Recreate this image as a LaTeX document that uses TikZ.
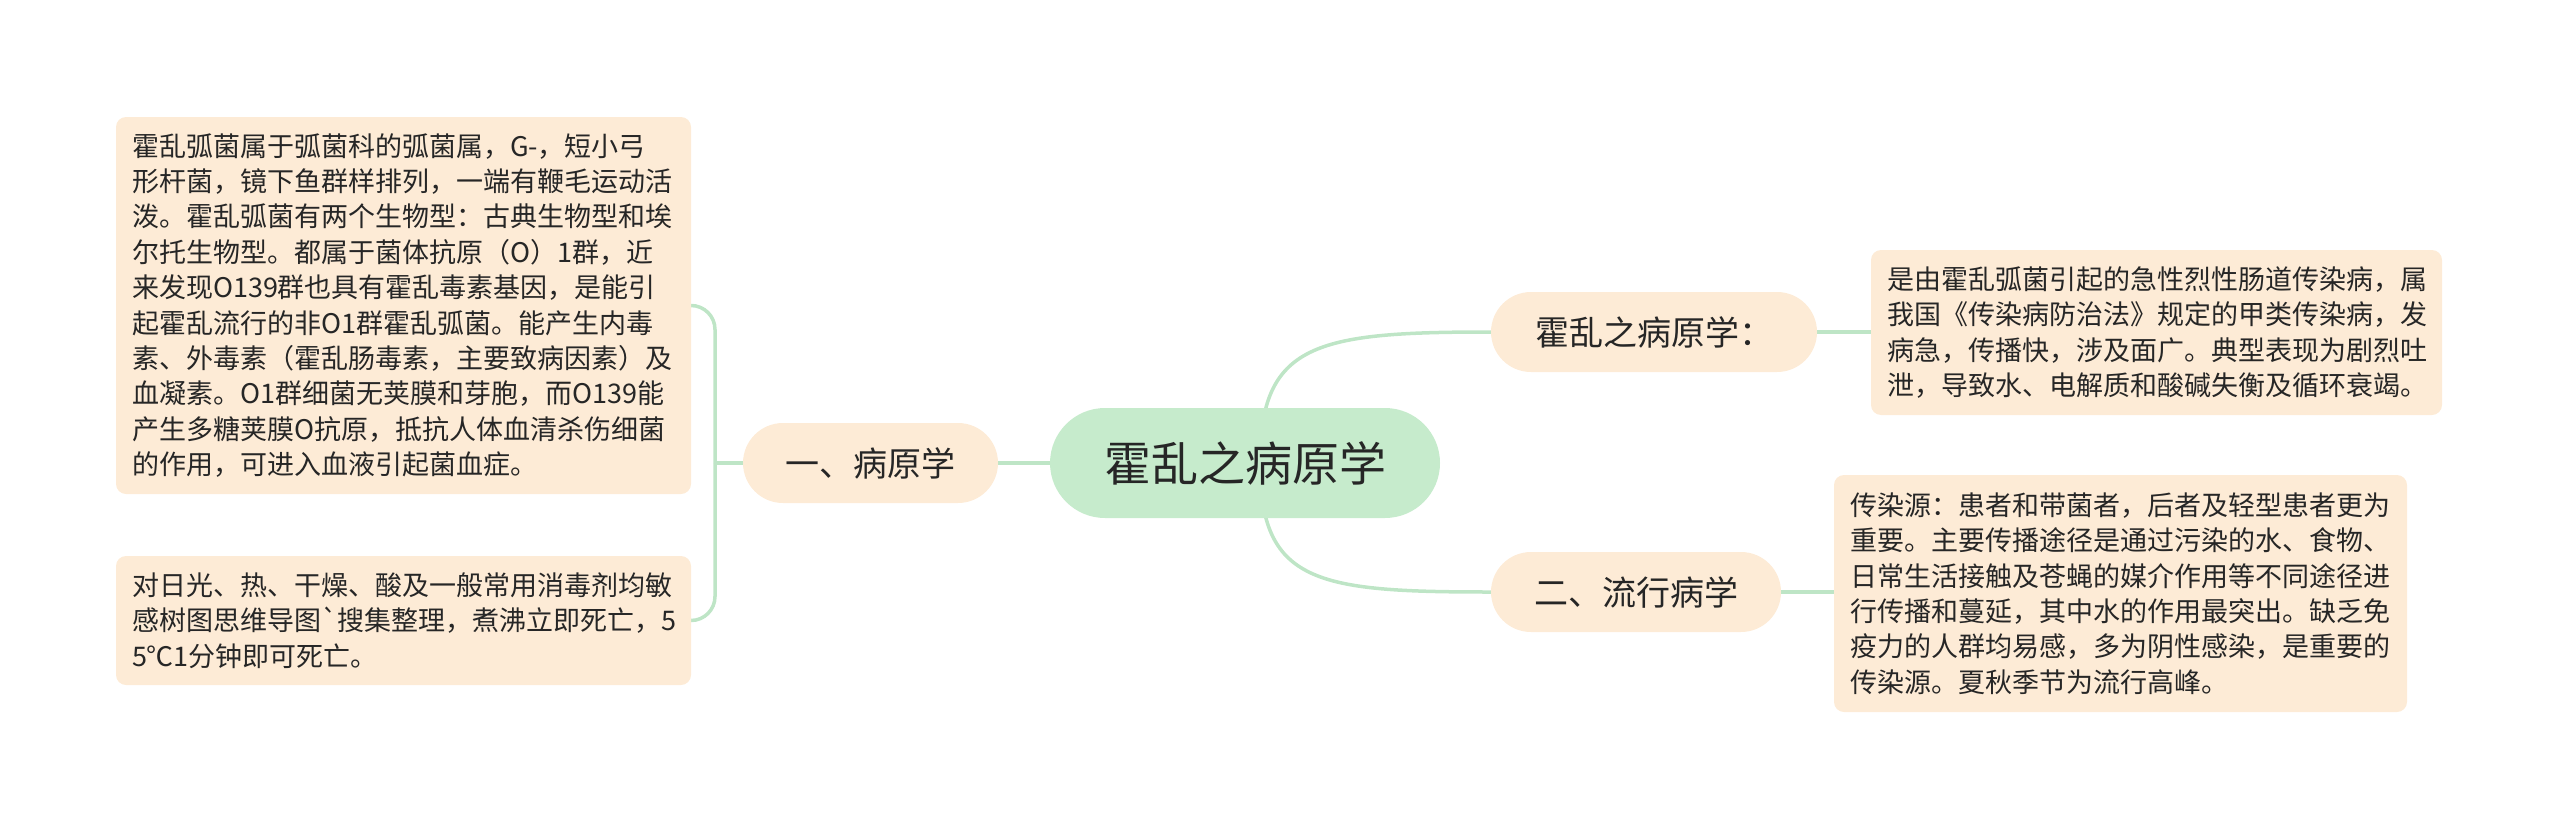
\documentclass[tikz,border=0pt]{standalone}
\usepackage{fontspec}
\newfontfamily\zhfont{Noto Sans CJK SC}
\usepackage{tikz}
\usetikzlibrary{backgrounds}

\definecolor{peach}{RGB}{253,235,214}
\definecolor{mint}{RGB}{198,235,204}
\definecolor{linkgreen}{RGB}{190,229,198}
\definecolor{ink}{RGB}{38,38,38}

\begin{document}
\begin{tikzpicture}[x=1pt, y=-1pt,
  root/.style={fill=mint, text=ink, rounded corners=55pt, minimum width=390pt,
               minimum height=110pt, inner sep=0pt,
               font=\zhfont\fontsize{47}{56}\selectfont},
  branch/.style={fill=peach, text=ink, rounded corners=40pt, minimum height=80pt,
                 inner sep=0pt, font=\zhfont\fontsize{34}{40}\selectfont},
  leaf/.style={fill=peach, text=ink, rounded corners=10pt, inner xsep=16pt,
               inner ysep=0pt, align=left,
               font=\zhfont\fontsize{27}{35.4}\selectfont},
  link/.style={draw=linkgreen, line width=3.5pt}]

\useasboundingbox (0,0) rectangle (2560,830);

\draw (1245,463) node[root] (root) {霍乱之病原学};
\draw (870.5,463) node[branch, minimum width=255pt] (bingyuan) {一、病原学};
\draw (1654,332) node[branch, minimum width=326pt] (dingyi) {霍乱之病原学：};
\draw (1636,592) node[branch, minimum width=290pt] (liuxing) {二、流行病学};

\draw (403.5,305.5) node[leaf, text width=543pt, minimum height=377pt] (xijun) {
霍乱弧菌属于弧菌科的弧菌属，G-，短小弓\\
形杆菌，镜下鱼群样排列，一端有鞭毛运动活\\
泼。霍乱弧菌有两个生物型：古典生物型和埃\\
尔托生物型。都属于菌体抗原（O）1群，近\\
来发现O139群也具有霍乱毒素基因，是能引\\
起霍乱流行的非O1群霍乱弧菌。能产生内毒\\
素、外毒素（霍乱肠毒素，主要致病因素）及\\
血凝素。O1群细菌无荚膜和芽胞，而O139能\\
产生多糖荚膜O抗原，抵抗人体血清杀伤细菌\\
的作用，可进入血液引起菌血症。};
\draw (403.5,620.5) node[leaf, text width=543pt, minimum height=129pt] (dikang) {
对日光、热、干燥、酸及一般常用消毒剂均敏\\
感树图思维导图`搜集整理，煮沸立即死亡，5\\
5℃1分钟即可死亡。};
\draw (2156.5,332.5) node[leaf, text width=539pt, minimum height=165pt] (gaishu) {
是由霍乱弧菌引起的急性烈性肠道传染病，属\\
我国《传染病防治法》规定的甲类传染病，发\\
病急，传播快，涉及面广。典型表现为剧烈吐\\
泄，导致水、电解质和酸碱失衡及循环衰竭。};
\draw (2120.5,593.5) node[leaf, text width=541pt, minimum height=237pt] (chuanran) {
传染源：患者和带菌者，后者及轻型患者更为\\
重要。主要传播途径是通过污染的水、食物、\\
日常生活接触及苍蝇的媒介作用等不同途径进\\
行传播和蔓延，其中水的作用最突出。缺乏免\\
疫力的人群均易感，多为阴性感染，是重要的\\
传染源。夏秋季节为流行高峰。};

% connectors behind the boxes
\coordinate (hub) at (715,463);
\begin{scope}[on background layer]
\draw[link] (root.west) -- (bingyuan.east);
\draw[link] (bingyuan.west) -- (hub);
\draw[link, rounded corners=24pt] (hub) |- (xijun.east);
\draw[link, rounded corners=24pt] (hub) |- (dikang.east);
\draw[link] ([xshift=15pt]root.center) .. controls +(0,-120) and +(-175,0) .. (dingyi.west);
\draw[link] ([xshift=15pt]root.center) .. controls +(0,120) and +(-175,0) .. (liuxing.west);
\draw[link] (dingyi.east) -- (gaishu.west |- dingyi.east);
\draw[link] (liuxing.east) -- (chuanran.west |- liuxing.east);
\end{scope}
\end{tikzpicture}
\end{document}
